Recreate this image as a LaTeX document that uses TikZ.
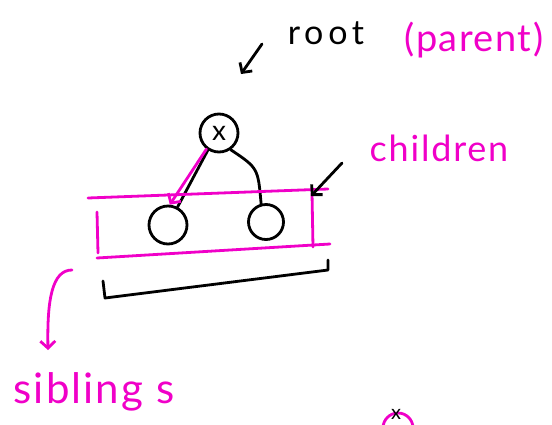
\documentclass[tikz,border=0pt]{standalone}
\usepackage{fontspec}
\setmainfont{Lato}
\usetikzlibrary{arrows.meta}
\definecolor{pinkm}{RGB}{240,0,200}
\tikzset{
  ink/.style={line width=2.8pt, line cap=round, line join=round},
  barb/.style={-{Straight Barb[length=7pt,width=15pt,line width=2.8pt]}},
  treenode/.style={circle, draw=black, ink, inner sep=0pt},
  lbl/.style={inner sep=0pt, anchor=center}
}
\begin{document}
\begin{tikzpicture}[x=1pt,y=-1pt]
\useasboundingbox (0,0) rectangle (552,424);
\clip (0,0) rectangle (552,424);
% labels
\node[lbl, font=\fontsize{34}{34}\selectfont\addfontfeatures{LetterSpace=14}] (rootlbl) at (326,33) {root};
\node[lbl, text=pinkm, font=\fontsize{38}{38}\selectfont\addfontfeatures{LetterSpace=4}] (parentlbl) at (474,40) {(parent)};
\node[lbl, text=pinkm, font=\fontsize{36}{36}\selectfont\addfontfeatures{LetterSpace=5}] (childlbl) at (439,148) {children};
\node[lbl, text=pinkm, font=\fontsize{42}{42}\selectfont\addfontfeatures{LetterSpace=5}] (siblbl) at (94,392) {sibling s};
% tree nodes
\node[treenode, minimum size=38pt, font=\fontsize{28}{28}\selectfont] (root) at (219,133) {x};
\node[treenode, minimum size=38pt] (c1) at (168,225) {};
\node[treenode, minimum size=35pt] (c2) at (266,222) {};
% edges
\draw[ink] (root.237) -- (c1.62);
\draw[ink] (root.305) .. controls (258,168) .. (c2.105);
\draw[ink, barb, pinkm] (root.232) -- (c1.85);
% magenta box
\coordinate (tl) at (88,198);
\coordinate (tr) at (328,189);
\coordinate (bl) at (97,258);
\coordinate (br) at (330,244);
\draw[ink, pinkm] (tl) -- (tr);
\draw[ink, pinkm] (bl) -- (br);
\draw[ink, pinkm] (97,212) -- (98,253);
\draw[ink, pinkm] (312,193) -- (313,247);
% children arrow
\coordinate (ca) at (342,163);
\coordinate (cb) at (311,196);
\draw[ink, barb] (ca) -- (cb);
% root arrow
\coordinate (ra) at (262,44);
\coordinate (rb) at (241,74);
\draw[ink, barb] (ra) -- (rb);
% bracket
\coordinate (k1) at (103,281);
\coordinate (k2) at (105,298);
\coordinate (k3) at (328,270);
\coordinate (k4) at (328,260);
\draw[ink] (k1) -- (k2) -- (k3) -- (k4);
% siblings arrow
\coordinate (sa) at (72,270);
\coordinate (sb) at (48,350);
\draw[ink, barb, pinkm] (sa) .. controls (52,270) and (47,300) .. (sb);
% partial node at bottom
\node[circle, draw=pinkm, ink, minimum size=30pt, inner sep=0pt] (extra) at (398,428) {};
\node[lbl, font=\fontsize{20}{20}\selectfont] (extrax) at (396,414) {x};
\end{tikzpicture}
\end{document}
